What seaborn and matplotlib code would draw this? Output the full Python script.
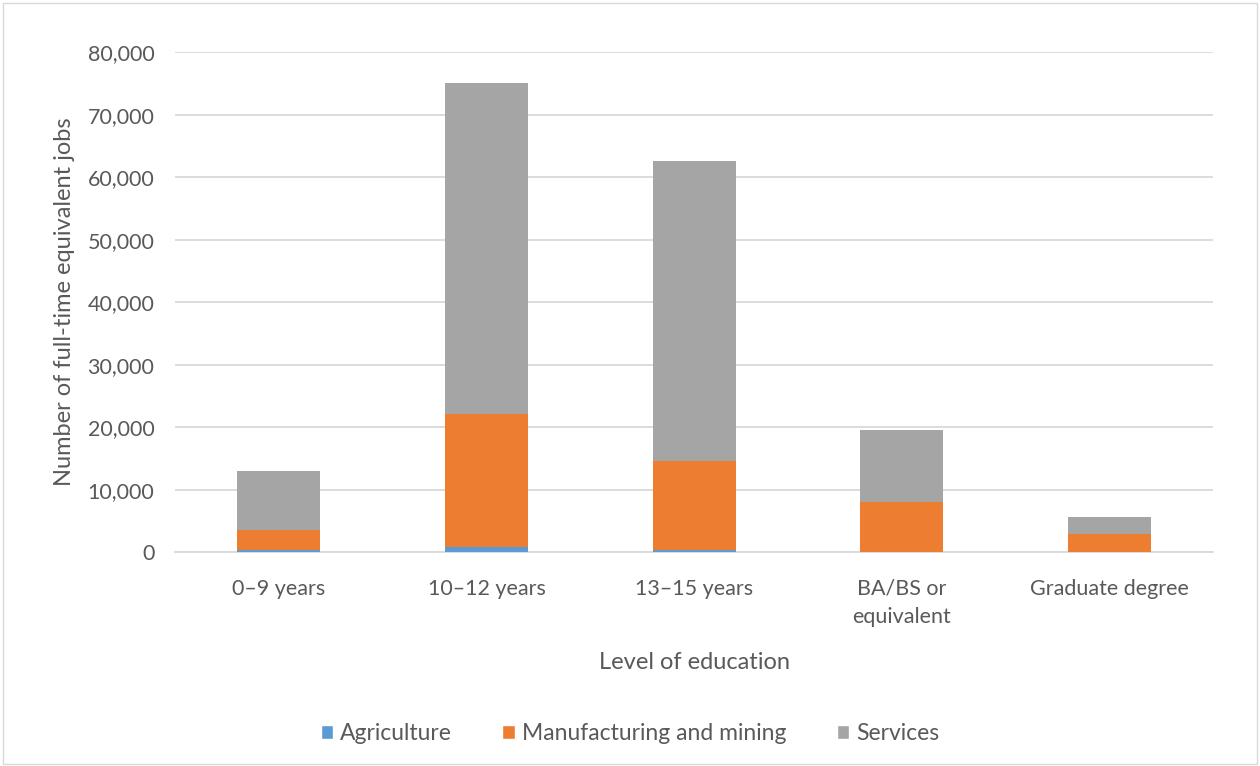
import pandas as pd
import seaborn as sns
import matplotlib.pyplot as plt
from matplotlib.patches import Patch, Rectangle

categories = ['0\u20139 years', '10\u201312 years', '13\u201315 years', 'BA/BS or\nequivalent', 'Graduate degree']
agriculture = [300, 800, 300, 50, 20]
manufacturing = [3330, 21300, 14300, 8000, 2980]
services = [9450, 53000, 48000, 11450, 2650]
yticks = [0, 10000, 20000, 30000, 40000, 50000, 60000, 70000, 80000]

colors = {'Agriculture': '#5b9bd5', 'Manufacturing and mining': '#ed7d31', 'Services': '#a5a5a5'}
text_col = '#595959'

df = pd.DataFrame({'cat': categories, 'agri': agriculture, 'manu': manufacturing, 'serv': services})
df['lvl1'] = df['agri']
df['lvl2'] = df['agri'] + df['manu']
df['lvl3'] = df['lvl2'] + df['serv']

sns.set_style('white')
plt.rcParams['font.family'] = ['Lato', 'DejaVu Sans']

fig = plt.figure(figsize=(12.6, 7.66), dpi=100)
ax = fig.add_axes([0.139, 0.279, 0.824, 0.653])

# stacked bars: draw cumulative totals from the top down
sns.barplot(data=df, x='cat', y='lvl3', color=colors['Services'], width=0.4, saturation=1,
            linewidth=0, ax=ax, zorder=2)
sns.barplot(data=df, x='cat', y='lvl2', color=colors['Manufacturing and mining'], width=0.4, saturation=1,
            linewidth=0, ax=ax, zorder=3)
sns.barplot(data=df, x='cat', y='lvl1', color=colors['Agriculture'], width=0.4, saturation=1,
            linewidth=0, ax=ax, zorder=4)

ax.set_ylim(0, 80000)
ax.set_xlim(-0.5, 4.5)
ax.set_yticks(yticks)
ax.set_yticklabels([f'{v:,}' for v in yticks])
ax.yaxis.grid(True, color='#d9d9d9', linewidth=1.3, zorder=0)
ax.set_axisbelow(True)
for s in ['top', 'right', 'left']:
    ax.spines[s].set_visible(False)
ax.spines['bottom'].set_color('#d9d9d9')
ax.spines['bottom'].set_linewidth(1.3)
ax.tick_params(axis='both', length=0, labelsize=15.5, colors=text_col)
ax.tick_params(axis='y', pad=15)
ax.tick_params(axis='x', pad=19)
for lab in ax.get_xticklabels():
    lab.set_linespacing(1.55)

ax.set_xlabel('Level of education', fontsize=17, color=text_col, labelpad=18)
ax.set_ylabel('Number of full-time equivalent jobs', fontsize=17, color=text_col, labelpad=9)

handles = [Patch(facecolor=c, label=k) for k, c in colors.items()]
fig.legend(handles=handles, loc='center', bbox_to_anchor=(0.5, 0.042), ncol=3, frameon=False,
           fontsize=16.5, labelcolor=text_col, handlelength=0.55, handleheight=0.55,
           handletextpad=0.3, columnspacing=2.2)

fig.patches.append(Rectangle((0.002, 0.002), 0.996, 0.994, transform=fig.transFigure,
                             fill=False, edgecolor='#d9d9d9', linewidth=1))

fig.savefig('out.png', dpi=100)
